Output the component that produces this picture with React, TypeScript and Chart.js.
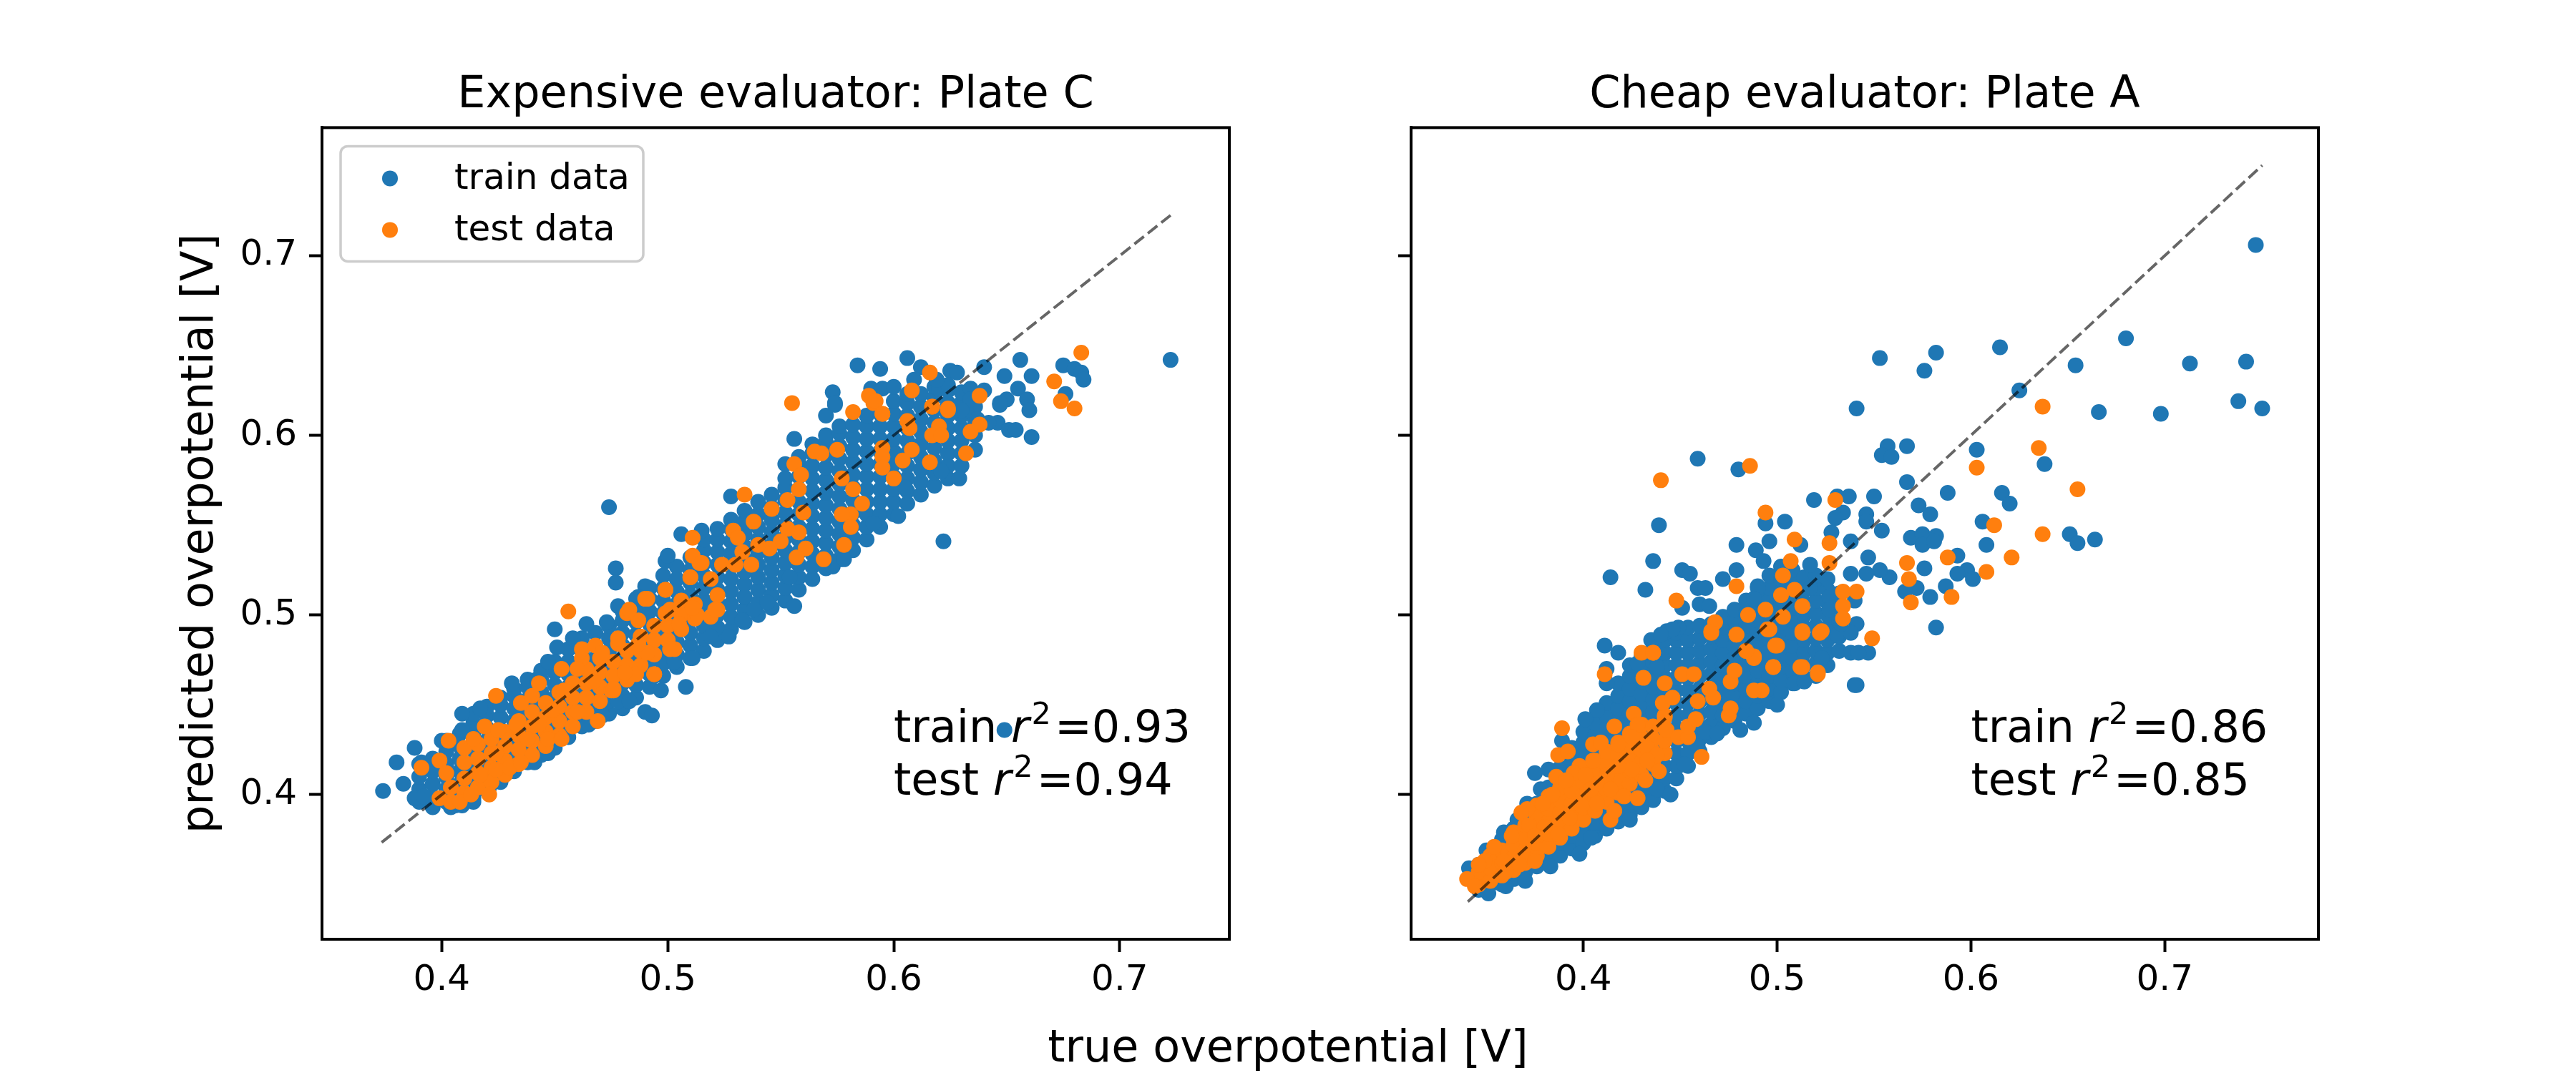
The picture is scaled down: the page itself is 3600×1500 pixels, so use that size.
import { useEffect, useRef } from "react";
import Chart from "chart.js/auto";

const FONT = '"DejaVu Sans", sans-serif';
const BLUE = "#1f77b4";
const ORANGE = "#ff7f0e";

const xTicks = [0.4, 0.5, 0.6, 0.7];
const yTicks = [0.4, 0.5, 0.6, 0.7];
const yRange = [0.3195, 0.7713];
const legendLabels = ["train data", "test data"];
const xLabel = "true overpotential [V]";
const yLabel = "predicted overpotential [V]";

// left panel: Plate C
const plateCTitle = "Expensive evaluator: Plate C";
const plateCRange = [0.347, 0.7485];
const plateCDiagonal = [0.3734, 0.7225];
const plateCScores = [0.93, 0.94];
const plateCTrain: number[][] = [
  [0.374, 0.402], [0.38, 0.418], [0.383, 0.406], [0.388, 0.426], [0.388, 0.398], [0.391, 0.418], [0.396, 0.393], [0.4, 0.43],
  [0.406, 0.394], [0.409, 0.394], [0.409, 0.445], [0.414, 0.396], [0.417, 0.448], [0.409, 0.436], [0.431, 0.462], [0.442, 0.464],
  [0.447, 0.474], [0.45, 0.492], [0.451, 0.482], [0.458, 0.487], [0.464, 0.495], [0.473, 0.496], [0.477, 0.526], [0.477, 0.518],
  [0.478, 0.505], [0.49, 0.516], [0.487, 0.51], [0.499, 0.53], [0.508, 0.46], [0.49, 0.446], [0.493, 0.444], [0.478, 0.452],
  [0.483, 0.452], [0.471, 0.444], [0.465, 0.439], [0.447, 0.423], [0.441, 0.418], [0.433, 0.418], [0.426, 0.407], [0.421, 0.404],
  [0.511, 0.476], [0.519, 0.488], [0.503, 0.474], [0.494, 0.466], [0.497, 0.458], [0.392, 0.399], [0.404, 0.393],
  [0.474, 0.56], [0.528, 0.566], [0.506, 0.545], [0.515, 0.547], [0.5, 0.533], [0.544, 0.507], [0.538, 0.503],
  [0.533, 0.497], [0.527, 0.488], [0.556, 0.505], [0.554, 0.521], [0.573, 0.527], [0.578, 0.531], [0.591, 0.551],
  [0.602, 0.555], [0.622, 0.541], [0.556, 0.598], [0.552, 0.584], [0.57, 0.611], [0.574, 0.617], [0.605, 0.571], [0.621, 0.58],
  [0.629, 0.576], [0.646, 0.607], [0.651, 0.603], [0.647, 0.617], [0.632, 0.614],
  [0.584, 0.639], [0.594, 0.637], [0.606, 0.643], [0.612, 0.638], [0.609, 0.631], [0.625, 0.636], [0.628, 0.635], [0.64, 0.638],
  [0.573, 0.624], [0.574, 0.618], [0.59, 0.626], [0.595, 0.626], [0.6, 0.627], [0.62, 0.626], [0.624, 0.628], [0.634, 0.626],
  [0.64, 0.625], [0.649, 0.633], [0.656, 0.642], [0.661, 0.633], [0.655, 0.626], [0.65, 0.62], [0.659, 0.62], [0.66, 0.614],
  [0.675, 0.639], [0.68, 0.637], [0.683, 0.635], [0.684, 0.631], [0.676, 0.623], [0.7225, 0.642], [0.654, 0.603], [0.661, 0.599],
  [0.642, 0.607], [0.647, 0.618], [0.634, 0.62], [0.637, 0.609], [0.63, 0.614], [0.619, 0.631], [0.649, 0.436],
];
// dense body of the train cloud, read column by column: [x, y, y, ...]
const plateCTrainCore: number[][] = [
  [0.39, 0.396, 0.403, 0.41, 0.417],
  [0.396, 0.399, 0.406, 0.413, 0.42],
  [0.402, 0.396, 0.403, 0.41, 0.417, 0.424, 0.43],
  [0.408, 0.399, 0.406, 0.413, 0.42, 0.427, 0.434],
  [0.414, 0.398, 0.405, 0.412, 0.419, 0.426, 0.433, 0.44, 0.445],
  [0.42, 0.402, 0.409, 0.416, 0.423, 0.43, 0.437, 0.444, 0.449],
  [0.426, 0.408, 0.415, 0.422, 0.429, 0.436, 0.443, 0.45, 0.454],
  [0.432, 0.413, 0.42, 0.427, 0.434, 0.441, 0.448, 0.455, 0.459],
  [0.438, 0.418, 0.425, 0.432, 0.439, 0.446, 0.453, 0.46, 0.464],
  [0.444, 0.422, 0.429, 0.436, 0.443, 0.45, 0.457, 0.464, 0.469],
  [0.45, 0.426, 0.433, 0.44, 0.447, 0.454, 0.461, 0.468, 0.474],
  [0.456, 0.432, 0.439, 0.446, 0.453, 0.46, 0.467, 0.474, 0.481],
  [0.462, 0.438, 0.445, 0.452, 0.459, 0.466, 0.473, 0.48, 0.487],
  [0.468, 0.441, 0.448, 0.455, 0.462, 0.469, 0.476, 0.483, 0.49],
  [0.474, 0.445, 0.452, 0.459, 0.466, 0.473, 0.48, 0.487, 0.494],
  [0.48, 0.448, 0.455, 0.462, 0.469, 0.476, 0.483, 0.49, 0.497, 0.502],
  [0.486, 0.454, 0.461, 0.468, 0.475, 0.482, 0.489, 0.496, 0.503, 0.509],
  [0.492, 0.46, 0.467, 0.474, 0.481, 0.488, 0.495, 0.502, 0.509, 0.515],
  [0.498, 0.466, 0.473, 0.48, 0.487, 0.494, 0.501, 0.508, 0.515, 0.522],
  [0.504, 0.471, 0.478, 0.485, 0.492, 0.499, 0.506, 0.513, 0.52, 0.527],
  [0.51, 0.476, 0.483, 0.49, 0.497, 0.504, 0.511, 0.518, 0.525, 0.532],
  [0.516, 0.48, 0.487, 0.494, 0.501, 0.508, 0.515, 0.522, 0.529, 0.536, 0.542],
  [0.522, 0.486, 0.493, 0.5, 0.507, 0.514, 0.521, 0.528, 0.535, 0.542, 0.548],
  [0.528, 0.492, 0.499, 0.506, 0.513, 0.52, 0.527, 0.534, 0.541, 0.548, 0.553],
  [0.534, 0.496, 0.503, 0.51, 0.517, 0.524, 0.531, 0.538, 0.545, 0.552, 0.558],
  [0.54, 0.5, 0.507, 0.514, 0.521, 0.528, 0.535, 0.542, 0.549, 0.556, 0.563],
  [0.546, 0.504, 0.511, 0.518, 0.525, 0.532, 0.539, 0.546, 0.553, 0.56, 0.567],
  [0.552, 0.508, 0.515, 0.522, 0.529, 0.536, 0.543, 0.55, 0.557, 0.564, 0.571, 0.576],
  [0.558, 0.514, 0.521, 0.528, 0.535, 0.542, 0.549, 0.556, 0.563, 0.57, 0.577, 0.584, 0.588],
  [0.564, 0.52, 0.527, 0.534, 0.541, 0.548, 0.555, 0.562, 0.569, 0.576, 0.583, 0.59, 0.595],
  [0.57, 0.526, 0.533, 0.54, 0.547, 0.554, 0.561, 0.568, 0.575, 0.582, 0.589, 0.596, 0.6],
  [0.576, 0.531, 0.538, 0.545, 0.552, 0.559, 0.566, 0.573, 0.58, 0.587, 0.594, 0.601, 0.605],
  [0.582, 0.536, 0.543, 0.55, 0.557, 0.564, 0.571, 0.578, 0.585, 0.592, 0.599, 0.606],
  [0.588, 0.542, 0.549, 0.556, 0.563, 0.57, 0.577, 0.584, 0.591, 0.598, 0.605, 0.611],
  [0.594, 0.549, 0.556, 0.563, 0.57, 0.577, 0.584, 0.591, 0.598, 0.605, 0.612],
  [0.6, 0.556, 0.563, 0.57, 0.577, 0.584, 0.591, 0.598, 0.605, 0.612, 0.619],
  [0.606, 0.562, 0.569, 0.576, 0.583, 0.59, 0.597, 0.604, 0.611, 0.618, 0.623],
  [0.612, 0.567, 0.574, 0.581, 0.588, 0.595, 0.602, 0.609, 0.616, 0.623],
  [0.618, 0.572, 0.579, 0.586, 0.593, 0.6, 0.607, 0.614, 0.621, 0.627],
  [0.624, 0.576, 0.583, 0.59, 0.597, 0.604, 0.611, 0.618, 0.625],
  [0.63, 0.583, 0.59, 0.597, 0.604, 0.611, 0.618, 0.624],
  [0.636, 0.592, 0.6, 0.608, 0.616],
];
const plateCTest: number[][] = [
  [0.456, 0.502], [0.424, 0.455], [0.403, 0.43], [0.391, 0.415], [0.399, 0.419], [0.402, 0.412], [0.399, 0.398], [0.408, 0.396],
  [0.413, 0.4], [0.421, 0.4], [0.41, 0.426], [0.414, 0.431], [0.419, 0.438], [0.425, 0.436], [0.417, 0.411], [0.424, 0.414],
  [0.43, 0.415], [0.435, 0.418], [0.424, 0.423], [0.433, 0.439], [0.435, 0.451], [0.44, 0.455], [0.443, 0.462], [0.447, 0.431],
  [0.453, 0.431], [0.453, 0.47], [0.449, 0.447], [0.46, 0.446], [0.469, 0.441], [0.462, 0.476], [0.462, 0.481], [0.468, 0.483],
  [0.471, 0.479], [0.467, 0.463], [0.475, 0.458], [0.478, 0.484], [0.482, 0.501], [0.49, 0.509], [0.499, 0.514], [0.486, 0.467],
  [0.494, 0.467], [0.491, 0.479], [0.487, 0.497], [0.499, 0.501], [0.503, 0.481], [0.51, 0.521], [0.513, 0.5], [0.519, 0.499],
  [0.522, 0.503], [0.514, 0.529], [0.438, 0.431], [0.443, 0.439], [0.454, 0.458], [0.46, 0.47],
  [0.534, 0.567], [0.555, 0.618], [0.582, 0.613], [0.595, 0.612], [0.591, 0.618], [0.606, 0.608], [0.607, 0.604], [0.617, 0.616],
  [0.624, 0.614], [0.638, 0.606], [0.634, 0.602], [0.62, 0.605], [0.617, 0.6], [0.621, 0.6], [0.632, 0.59], [0.616, 0.585],
  [0.608, 0.592], [0.604, 0.586], [0.595, 0.593], [0.595, 0.588], [0.595, 0.582], [0.6, 0.576], [0.565, 0.591], [0.568, 0.59],
  [0.575, 0.592], [0.556, 0.584], [0.559, 0.578], [0.558, 0.57], [0.577, 0.576], [0.582, 0.57], [0.586, 0.562], [0.581, 0.556],
  [0.577, 0.556], [0.581, 0.549], [0.578, 0.539], [0.569, 0.531], [0.561, 0.537], [0.557, 0.532], [0.558, 0.546], [0.553, 0.548],
  [0.55, 0.541], [0.545, 0.537], [0.54, 0.539], [0.533, 0.535], [0.53, 0.528], [0.537, 0.528], [0.56, 0.557], [0.553, 0.564],
  [0.546, 0.559], [0.538, 0.552], [0.529, 0.547], [0.531, 0.543], [0.511, 0.543], [0.511, 0.533], [0.515, 0.529], [0.524, 0.528],
  [0.51, 0.521], [0.519, 0.52], [0.522, 0.511], [0.499, 0.514], [0.491, 0.509], [0.483, 0.503], [0.501, 0.503], [0.511, 0.504],
  [0.521, 0.503], [0.505, 0.495], [0.501, 0.481], [0.478, 0.487], [0.487, 0.484], [0.494, 0.467], [0.481, 0.468], [0.476, 0.459],
  [0.616, 0.635], [0.608, 0.625], [0.589, 0.622], [0.683, 0.646], [0.671, 0.63], [0.674, 0.619], [0.68, 0.615], [0.638, 0.622],
  [0.624, 0.615], [0.617, 0.616], [0.592, 0.619], [0.595, 0.612],
];
const plateCTestCore: number[][] = [
  [0.404, 0.396, 0.404],
  [0.41, 0.401, 0.409, 0.418],
  [0.416, 0.404, 0.412, 0.42, 0.428],
  [0.422, 0.407, 0.415, 0.423, 0.431],
  [0.428, 0.411, 0.419, 0.427, 0.435],
  [0.434, 0.417, 0.425, 0.433, 0.441],
  [0.44, 0.422, 0.43, 0.438, 0.446],
  [0.446, 0.427, 0.435, 0.443, 0.451],
  [0.452, 0.433, 0.441, 0.449, 0.457],
  [0.458, 0.438, 0.446, 0.454, 0.462],
  [0.464, 0.446, 0.454, 0.462, 0.47],
  [0.47, 0.452, 0.46, 0.468, 0.476],
  [0.476, 0.458, 0.466, 0.474],
  [0.482, 0.464, 0.472, 0.48],
  [0.488, 0.472, 0.48, 0.488],
  [0.494, 0.478, 0.486, 0.494],
  [0.5, 0.486, 0.494],
  [0.506, 0.492, 0.5, 0.508],
  [0.512, 0.498, 0.506],
];

// right panel: Plate A
const plateATitle = "Cheap evaluator: Plate A";
const plateARange = [0.3111, 0.7793];
const plateADiagonal = [0.3404, 0.7503];
const plateAScores = [0.86, 0.85];
const plateATrain: number[][] = [
  [0.411, 0.483], [0.418, 0.479], [0.412, 0.47], [0.412, 0.462], [0.435, 0.486], [0.443, 0.491], [0.449, 0.493], [0.428, 0.473],
  [0.438, 0.471], [0.407, 0.447], [0.401, 0.442], [0.389, 0.43], [0.375, 0.412], [0.382, 0.414],
  [0.378, 0.403], [0.371, 0.395], [0.366, 0.386], [0.359, 0.379], [0.35, 0.369], [0.341, 0.359], [0.351, 0.345], [0.36, 0.349],
  [0.37, 0.352], [0.383, 0.36], [0.398, 0.367], [0.404, 0.376], [0.412, 0.382], [0.424, 0.386], [0.43, 0.394], [0.438, 0.403],
  [0.445, 0.4], [0.449, 0.416], [0.452, 0.417], [0.459, 0.427], [0.463, 0.435], [0.469, 0.434], [0.481, 0.436], [0.488, 0.44],
  [0.5, 0.45], [0.509, 0.462], [0.514, 0.463], [0.523, 0.476], [0.54, 0.461], [0.531, 0.489], [0.538, 0.479],
  [0.541, 0.615], [0.459, 0.587], [0.48, 0.581], [0.439, 0.55], [0.436, 0.53], [0.432, 0.514], [0.557, 0.594], [0.554, 0.589],
  [0.559, 0.588], [0.567, 0.594], [0.603, 0.592], [0.567, 0.574], [0.588, 0.568], [0.616, 0.568], [0.62, 0.562], [0.638, 0.584],
  [0.519, 0.564], [0.531, 0.566], [0.537, 0.566], [0.55, 0.566], [0.546, 0.556], [0.546, 0.552], [0.534, 0.557], [0.53, 0.554],
  [0.573, 0.561], [0.579, 0.556], [0.554, 0.547], [0.606, 0.552], [0.569, 0.543], [0.575, 0.545], [0.582, 0.544], [0.575, 0.539],
  [0.608, 0.539], [0.593, 0.533], [0.598, 0.525], [0.593, 0.523], [0.601, 0.52], [0.576, 0.526], [0.587, 0.516], [0.579, 0.51],
  [0.572, 0.515], [0.566, 0.513], [0.558, 0.521], [0.553, 0.525], [0.547, 0.532], [0.538, 0.541], [0.527, 0.51], [0.54, 0.508],
  [0.546, 0.523], [0.538, 0.523], [0.541, 0.495], [0.538, 0.49], [0.547, 0.479], [0.542, 0.479], [0.582, 0.493], [0.541, 0.461],
  [0.479, 0.539], [0.489, 0.536], [0.493, 0.53], [0.496, 0.541], [0.494, 0.551], [0.504, 0.552], [0.512, 0.539], [0.517, 0.528],
  [0.528, 0.546], [0.479, 0.525], [0.472, 0.52], [0.451, 0.525], [0.455, 0.523], [0.459, 0.515], [0.463, 0.515],
  [0.46, 0.506], [0.465, 0.505], [0.451, 0.504], [0.49, 0.515], [0.488, 0.509], [0.517, 0.515], [0.512, 0.507], [0.504, 0.507],
  [0.527, 0.503], [0.533, 0.495], [0.446, 0.492], [0.44, 0.489],
  [0.582, 0.646], [0.615, 0.649], [0.68, 0.654], [0.654, 0.639], [0.625, 0.625], [0.713, 0.64], [0.742, 0.641], [0.666, 0.613],
  [0.698, 0.612], [0.738, 0.619], [0.7503, 0.615], [0.581, 0.541], [0.651, 0.545], [0.655, 0.54], [0.664, 0.542],
  [0.747, 0.706], [0.553, 0.643], [0.576, 0.636], [0.414, 0.521],
];
const plateATrainCore: number[][] = [
  [0.346, 0.347, 0.354, 0.361],
  [0.352, 0.35, 0.357, 0.364, 0.368],
  [0.358, 0.35, 0.357, 0.364, 0.371, 0.375],
  [0.364, 0.353, 0.36, 0.367, 0.374, 0.381],
  [0.37, 0.357, 0.364, 0.371, 0.378, 0.385, 0.389],
  [0.376, 0.36, 0.367, 0.374, 0.381, 0.388, 0.395],
  [0.382, 0.363, 0.37, 0.377, 0.384, 0.391, 0.398, 0.404],
  [0.388, 0.366, 0.373, 0.38, 0.387, 0.394, 0.401, 0.408, 0.415],
  [0.394, 0.37, 0.377, 0.384, 0.391, 0.398, 0.405, 0.412, 0.419, 0.426],
  [0.4, 0.373, 0.38, 0.387, 0.394, 0.401, 0.408, 0.415, 0.422, 0.429, 0.435],
  [0.406, 0.377, 0.384, 0.391, 0.398, 0.405, 0.412, 0.419, 0.426, 0.433, 0.44],
  [0.412, 0.381, 0.388, 0.395, 0.402, 0.409, 0.416, 0.423, 0.43, 0.437, 0.444, 0.451],
  [0.418, 0.385, 0.392, 0.399, 0.406, 0.413, 0.42, 0.427, 0.434, 0.441, 0.448, 0.455, 0.462],
  [0.424, 0.389, 0.396, 0.403, 0.41, 0.417, 0.424, 0.431, 0.438, 0.445, 0.452, 0.459, 0.466, 0.472],
  [0.43, 0.393, 0.4, 0.407, 0.414, 0.421, 0.428, 0.435, 0.442, 0.449, 0.456, 0.463, 0.47, 0.477],
  [0.436, 0.397, 0.404, 0.411, 0.418, 0.425, 0.432, 0.439, 0.446, 0.453, 0.46, 0.467, 0.474, 0.481],
  [0.442, 0.402, 0.409, 0.416, 0.423, 0.43, 0.437, 0.444, 0.451, 0.458, 0.465, 0.472, 0.479, 0.486],
  [0.448, 0.409, 0.416, 0.423, 0.43, 0.437, 0.444, 0.451, 0.458, 0.465, 0.472, 0.479, 0.486, 0.49],
  [0.454, 0.416, 0.423, 0.43, 0.437, 0.444, 0.451, 0.458, 0.465, 0.472, 0.479, 0.486, 0.493],
  [0.46, 0.424, 0.431, 0.438, 0.445, 0.452, 0.459, 0.466, 0.473, 0.48, 0.487, 0.494],
  [0.466, 0.432, 0.439, 0.446, 0.453, 0.46, 0.467, 0.474, 0.481, 0.488, 0.495],
  [0.472, 0.437, 0.444, 0.451, 0.458, 0.465, 0.472, 0.479, 0.486, 0.493, 0.499],
  [0.478, 0.441, 0.448, 0.455, 0.462, 0.469, 0.476, 0.483, 0.49, 0.497, 0.503],
  [0.484, 0.445, 0.452, 0.459, 0.466, 0.473, 0.48, 0.487, 0.494, 0.501, 0.508],
  [0.49, 0.448, 0.455, 0.462, 0.469, 0.476, 0.483, 0.49, 0.497, 0.504, 0.511, 0.516],
  [0.496, 0.452, 0.459, 0.466, 0.473, 0.48, 0.487, 0.494, 0.501, 0.508, 0.515, 0.522],
  [0.502, 0.457, 0.464, 0.471, 0.478, 0.485, 0.492, 0.499, 0.506, 0.513, 0.52, 0.527],
  [0.508, 0.462, 0.469, 0.476, 0.483, 0.49, 0.497, 0.504, 0.511, 0.518, 0.525],
  [0.514, 0.465, 0.472, 0.479, 0.486, 0.493, 0.5, 0.507, 0.514, 0.521],
  [0.52, 0.466, 0.473, 0.48, 0.487, 0.494, 0.501, 0.508, 0.515, 0.522],
  [0.526, 0.472, 0.479, 0.486, 0.493, 0.5, 0.507, 0.514, 0.52],
  [0.532, 0.48, 0.488, 0.496, 0.504, 0.512],
];
const plateATest: number[][] = [
  [0.389, 0.437], [0.387, 0.422], [0.392, 0.424], [0.386, 0.41], [0.405, 0.428], [0.409, 0.429], [0.398, 0.416], [0.395, 0.412],
  [0.405, 0.419], [0.416, 0.438], [0.426, 0.445], [0.428, 0.439], [0.418, 0.428], [0.425, 0.432], [0.433, 0.426], [0.438, 0.422],
  [0.433, 0.419], [0.425, 0.414], [0.418, 0.416], [0.412, 0.411], [0.407, 0.406], [0.414, 0.403], [0.421, 0.399], [0.428, 0.398],
  [0.432, 0.408], [0.439, 0.413], [0.414, 0.386], [0.416, 0.391], [0.407, 0.395], [0.399, 0.394], [0.393, 0.387], [0.387, 0.378],
  [0.38, 0.382], [0.384, 0.4], [0.379, 0.395], [0.371, 0.392], [0.368, 0.39], [0.372, 0.383], [0.375, 0.377], [0.363, 0.377],
  [0.354, 0.371], [0.359, 0.363], [0.367, 0.361], [0.375, 0.363], [0.36, 0.357], [0.349, 0.363], [0.346, 0.361], [0.34, 0.353],
  [0.344, 0.349], [0.401, 0.411], [0.404, 0.403], [0.443, 0.436], [0.449, 0.432], [0.454, 0.432], [0.454, 0.438], [0.458, 0.442],
  [0.442, 0.443], [0.441, 0.451], [0.446, 0.454], [0.442, 0.462], [0.451, 0.467], [0.457, 0.467], [0.459, 0.452], [0.467, 0.454],
  [0.465, 0.459], [0.475, 0.444], [0.476, 0.448], [0.476, 0.463], [0.478, 0.469], [0.488, 0.476], [0.484, 0.48], [0.492, 0.458],
  [0.488, 0.458], [0.498, 0.471], [0.499, 0.483], [0.496, 0.492], [0.479, 0.489], [0.466, 0.491], [0.513, 0.471], [0.521, 0.467],
  [0.513, 0.491], [0.523, 0.491], [0.43, 0.479], [0.436, 0.479], [0.431, 0.465], [0.411, 0.467], [0.461, 0.421], [0.391, 0.408],
  [0.44, 0.575], [0.486, 0.583], [0.637, 0.616], [0.635, 0.593], [0.637, 0.545], [0.603, 0.582], [0.612, 0.55], [0.621, 0.532],
  [0.608, 0.524], [0.588, 0.532], [0.59, 0.51], [0.567, 0.529], [0.568, 0.52], [0.569, 0.507], [0.549, 0.487], [0.53, 0.564],
  [0.494, 0.557], [0.509, 0.542], [0.527, 0.54], [0.527, 0.529], [0.507, 0.53], [0.503, 0.522], [0.509, 0.514], [0.502, 0.511],
  [0.513, 0.505], [0.503, 0.499], [0.495, 0.492], [0.494, 0.503], [0.485, 0.5], [0.479, 0.516], [0.448, 0.508], [0.468, 0.496],
  [0.466, 0.49], [0.479, 0.489], [0.534, 0.513], [0.541, 0.513], [0.534, 0.505], [0.534, 0.498], [0.513, 0.49], [0.522, 0.49],
  [0.5, 0.483], [0.498, 0.471], [0.512, 0.471], [0.521, 0.468], [0.436, 0.479], [0.488, 0.477], [0.484, 0.48], [0.655, 0.57],
];
const plateATestCore: number[][] = [
  [0.346, 0.35, 0.357],
  [0.352, 0.352, 0.359, 0.366],
  [0.358, 0.355, 0.362, 0.369],
  [0.364, 0.358, 0.365, 0.372, 0.379],
  [0.37, 0.362, 0.369, 0.376, 0.383],
  [0.376, 0.366, 0.373, 0.38, 0.387, 0.394],
  [0.382, 0.371, 0.378, 0.385, 0.392, 0.399],
  [0.388, 0.376, 0.383, 0.39, 0.397, 0.404],
  [0.394, 0.381, 0.388, 0.395, 0.402, 0.409],
  [0.4, 0.386, 0.393, 0.4, 0.407, 0.414],
  [0.406, 0.391, 0.398, 0.405, 0.412, 0.419],
  [0.412, 0.396, 0.403, 0.41, 0.417, 0.424],
  [0.418, 0.401, 0.408, 0.415, 0.422, 0.429],
  [0.424, 0.406, 0.413, 0.42, 0.427, 0.434],
  [0.43, 0.411, 0.418, 0.425, 0.432, 0.439],
  [0.436, 0.417, 0.424, 0.431, 0.438],
  [0.442, 0.423, 0.43, 0.437, 0.444],
];

type PanelProps = {
  title: string;
  train: number[][];
  test: number[][];
  xRange: number[];
  diagonal: number[];
  scores: number[];
  left: number;
  axisWidth: number;
  padRight: number;
  withYLabel: boolean;
  withLegend: boolean;
};

const toPoints = (rows: number[][]) => rows.map(([x, y]) => ({ x, y }));
const fromColumns = (cols: number[][]) => cols.flatMap(([x, ...ys]) => ys.map((y) => [x, y]));

function ScatterPanel(props: PanelProps) {
  const canvasRef = useRef<HTMLCanvasElement>(null);

  useEffect(() => {
    if (!canvasRef.current) return;
    const { title, train, test, xRange, diagonal, scores, axisWidth, padRight, withYLabel, withLegend } = props;

    const overlay = {
      id: "overlay",
      afterDraw(chart: any) {
        const { ctx, chartArea: a, scales } = chart;
        ctx.save();
        // full frame like matplotlib spines
        ctx.strokeStyle = "#000";
        ctx.lineWidth = 4;
        ctx.strokeRect(a.left, a.top, a.right - a.left, a.bottom - a.top);

        // r^2 annotation anchored at (0.6, 0.4)
        const x0 = scales.x.getPixelForValue(0.6);
        const base = scales.y.getPixelForValue(0.4);
        ctx.fillStyle = "#000";
        ctx.textBaseline = "alphabetic";
        ctx.textAlign = "left";
        ["train", "test"].forEach((name, i) => {
          const y = base - (1 - i) * 74;
          let cx = x0;
          ctx.font = `62px ${FONT}`;
          ctx.fillText(name + " ", cx, y);
          cx += ctx.measureText(name + " ").width;
          ctx.font = `italic 62px ${FONT}`;
          ctx.fillText("r", cx, y);
          cx += ctx.measureText("r").width + 3;
          ctx.font = `43px ${FONT}`;
          ctx.fillText("2", cx, y - 25);
          cx += ctx.measureText("2").width + 5;
          ctx.font = `62px ${FONT}`;
          ctx.fillText("=" + scores[i].toFixed(2), cx, y);
        });

        if (withLegend) {
          const bx = a.left + 26, by = a.top + 26, bw = 423, bh = 161, r = 10;
          ctx.beginPath();
          ctx.moveTo(bx + r, by);
          ctx.arcTo(bx + bw, by, bx + bw, by + bh, r);
          ctx.arcTo(bx + bw, by + bh, bx, by + bh, r);
          ctx.arcTo(bx, by + bh, bx, by, r);
          ctx.arcTo(bx, by, bx + bw, by, r);
          ctx.closePath();
          ctx.fillStyle = "rgba(255,255,255,0.8)";
          ctx.fill();
          ctx.strokeStyle = "#cccccc";
          ctx.lineWidth = 3.5;
          ctx.stroke();
          [BLUE, ORANGE].forEach((c, i) => {
            const ry = by + 45 + i * 72;
            ctx.beginPath();
            ctx.arc(bx + 69, ry, 11, 0, Math.PI * 2);
            ctx.fillStyle = c;
            ctx.fill();
            ctx.fillStyle = "#000";
            ctx.font = `50px ${FONT}`;
            ctx.fillText(legendLabels[i], bx + 159, ry + 15);
          });
        }
        ctx.restore();
      },
    };

    const tickFont = { family: FONT, size: 50 };
    const grid = { display: true, drawOnChartArea: false, drawTicks: true, tickLength: 18, tickWidth: 4, tickColor: "#000" };
    const border = { display: true, color: "#000", width: 4 };
    const marker = { pointRadius: 11, pointHoverRadius: 11, pointBorderWidth: 0 };

    const chart = new Chart(canvasRef.current, {
      type: "scatter",
      data: {
        datasets: [
          {
            label: "diagonal",
            data: diagonal.map((v) => ({ x: v, y: v })),
            showLine: true,
            borderColor: "rgba(0,0,0,0.6)",
            borderWidth: 4,
            borderDash: [17, 7],
            pointRadius: 0,
            order: 1,
          },
          { label: legendLabels[1], data: toPoints(test), backgroundColor: ORANGE, ...marker, order: 2 },
          { label: legendLabels[0], data: toPoints(train), backgroundColor: BLUE, ...marker, order: 3 },
        ],
      },
      options: {
        responsive: false,
        animation: false,
        devicePixelRatio: 1,
        events: [],
        layout: { padding: { left: 0, top: 0, right: padRight, bottom: 37 } },
        plugins: {
          legend: { display: false },
          tooltip: { enabled: false },
          title: {
            display: true,
            text: title,
            fullSize: false,
            color: "#000",
            font: { family: FONT, size: 62, weight: "normal", lineHeight: 1.2 },
            padding: { top: 97, bottom: 7 },
          },
        },
        scales: {
          x: {
            type: "linear",
            position: "bottom",
            min: xRange[0],
            max: xRange[1],
            afterBuildTicks: (s: any) => {
              s.ticks = xTicks.map((value) => ({ value }));
            },
            afterFit: (s: any) => {
              s.height = 150;
            },
            grid,
            border,
            ticks: { font: tickFont, color: "#000", padding: 10, maxRotation: 0, autoSkip: false, callback: (v: any) => Number(v).toFixed(1) },
          },
          y: {
            type: "linear",
            min: yRange[0],
            max: yRange[1],
            afterBuildTicks: (s: any) => {
              s.ticks = yTicks.map((value) => ({ value }));
            },
            afterFit: (s: any) => {
              s.width = axisWidth;
            },
            grid,
            border,
            title: {
              display: withYLabel,
              text: yLabel,
              color: "#000",
              font: { family: FONT, size: 62, lineHeight: 1.2 },
              padding: { top: 244, bottom: 0 },
            },
            ticks: {
              font: tickFont,
              color: "#000",
              padding: 17,
              autoSkip: false,
              callback: (v: any) => (withYLabel ? Number(v).toFixed(1) : ""),
            },
          },
        },
      },
      plugins: [overlay],
    } as any);

    return () => chart.destroy();
    // eslint-disable-next-line react-hooks/exhaustive-deps
  }, []);

  return (
    <canvas
      ref={canvasRef}
      width={1800}
      height={1500}
      style={{ position: "absolute", left: props.left, top: 0, width: 1800, height: 1500 }}
    />
  );
}

export default function App() {
  return (
    <div style={{ position: "absolute", left: 0, top: 0, width: 3600, height: 1500, background: "#fff", overflow: "hidden" }}>
      <ScatterPanel
        title={plateCTitle}
        train={[...fromColumns(plateCTrainCore), ...plateCTrain]}
        test={[...fromColumns(plateCTestCore), ...plateCTest]}
        xRange={plateCRange}
        diagonal={plateCDiagonal}
        scores={plateCScores}
        left={0}
        axisWidth={450}
        padRight={82}
        withYLabel={true}
        withLegend={true}
      />
      <ScatterPanel
        title={plateATitle}
        train={[...fromColumns(plateATrainCore), ...plateATrain]}
        test={[...fromColumns(plateATestCore), ...plateATest]}
        xRange={plateARange}
        diagonal={plateADiagonal}
        scores={plateAScores}
        left={1800}
        axisWidth={172}
        padRight={360}
        withYLabel={false}
        withLegend={false}
      />
      <div
        style={{
          position: "absolute",
          left: 0,
          top: 1432,
          width: 3600,
          textAlign: "center",
          fontFamily: FONT,
          fontSize: 62,
          lineHeight: "62px",
          color: "#000",
        }}
      >
        {xLabel}
      </div>
    </div>
  );
}
